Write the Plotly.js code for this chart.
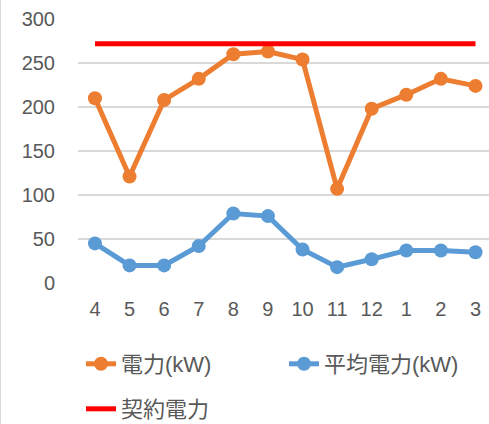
<!DOCTYPE html>
<html>
<head>
<meta charset="utf-8">
<script src="https://cdn.plot.ly/plotly-3.0.1.min.js"></script>
<style>
html,body{margin:0;padding:0;background:#fff;}
#chart{width:489px;height:424px;position:relative;}
#edge{position:absolute;left:0;top:0;width:1px;height:424px;background:#d9d9d9;z-index:10;}
</style>
</head>
<body>
<div id="edge"></div>
<div id="chart"></div>
<script>
const months = ['4','5','6','7','8','9','10','11','12','1','2','3'];
const power = [210, 121, 208, 232, 260, 263, 254, 107, 198, 214, 232, 224];
const avgPower = [45, 20, 20, 42, 79, 76, 38, 18, 27, 37, 37, 35];
const contractValue = 272;
const contract = months.map(() => contractValue);
const yTicks = [0, 50, 100, 150, 200, 250, 300];

const FONT = 'Liberation Sans, Noto Sans CJK JP, sans-serif';
const GRAY = '#595959';

const traces = [
  {x: months, y: power, name: '電力(kW)', type: 'scatter', mode: 'lines+markers',
   line: {color: '#ED7D31', width: 5}, marker: {color: '#ED7D31', size: 14}, legend: 'legend'},
  {x: months, y: avgPower, name: '平均電力(kW)', type: 'scatter', mode: 'lines+markers',
   line: {color: '#5B9BD5', width: 5}, marker: {color: '#5B9BD5', size: 14}, legend: 'legend2'},
  {x: months, y: contract, name: '契約電力', type: 'scatter', mode: 'lines',
   line: {color: '#FF0000', width: 5}, legend: 'legend3'}
];

function leg(px, py) {
  return {orientation: 'h', xref: 'container', yref: 'container', x: px/489, y: 1 - py/424,
          xanchor: 'left', yanchor: 'top', itemwidth: 30,
          font: {size: 22, color: GRAY, family: FONT}, bgcolor: 'rgba(0,0,0,0)'};
}

const layout = {
  width: 489, height: 424,
  margin: {l: 78, r: 0, t: 19, b: 141},
  paper_bgcolor: '#fff', plot_bgcolor: '#fff',
  font: {family: FONT, color: GRAY, size: 20},
  xaxis: {type: 'category', range: [-0.49, 11.39], showgrid: false, zeroline: false,
          showline: false, ticks: '', ticklabelstandoff: 12, tickfont: {size: 20, color: GRAY}},
  yaxis: {range: [0, 300], tickvals: yTicks, showgrid: true, gridcolor: '#d9d9d9', gridwidth: 1.5,
          zeroline: false, showline: false, ticks: '', ticklabelstandoff: 22,
          tickfont: {size: 20, color: GRAY}},
  legend: leg(81, 343),
  legend2: leg(284, 343),
  legend3: leg(81, 388),
  showlegend: true
};

Plotly.newPlot('chart', traces, layout, {displayModeBar: false, staticPlot: true});
</script>
</body>
</html>
